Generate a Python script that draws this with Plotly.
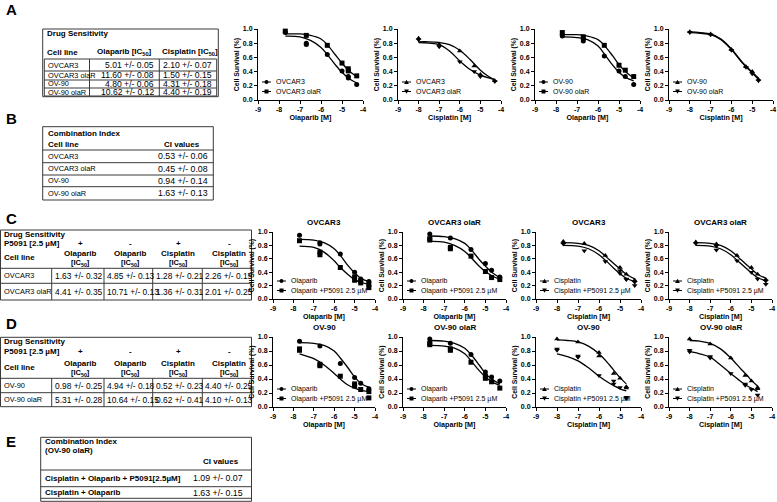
"""Drug sensitivity figure: IC50 tables and dose-response curves."""
import plotly.graph_objects as go

W, H = 777, 502
FONT = "Liberation Sans, Arial, sans-serif"
INK = "black"
GRID = "#3a3a3a"

# ---- doses (log10 M) -------------------------------------------------------
OLA_DOSE = [-7.7, -6.7, -5.7, -5.0, -4.7, -4.3]
CIS_DOSE = [-8.0, -7.0, -6.0, -5.3, -5.0, -4.7]
CIS_DOSE_A2 = [-8.0, -7.0, -6.0, -5.3, -5.0, -4.3]
OLA_FIT_X = [-7.7, -7.0, -6.5, -6.0, -5.7, -5.3, -5.0, -4.7, -4.3]
CIS_FIT_X = [-8.0, -7.5, -7.0, -6.5, -6.0, -5.5, -5.2, -5.0, -4.7]
CIS_FIT_X_A2 = [-8.0, -7.5, -7.0, -6.5, -6.0, -5.5, -5.0, -4.6, -4.3]

# ---- panel A curves ---------------------------------------------------------
a1_ovcar3 = [[0.95], [0.80, 0.78], [0.64], [0.41], [0.33, 0.31], [0.22]]
a1_olar = [[0.97], [0.91], [0.77], [0.52], [0.44, 0.41], [0.34]]
a1_ovcar3_fit = [0.90, 0.89, 0.84, 0.74, 0.64, 0.49, 0.39, 0.31, 0.24]
a1_olar_fit = [0.93, 0.93, 0.91, 0.86, 0.78, 0.63, 0.52, 0.42, 0.33]

a2_ovcar3 = [[0.87], [0.78], [0.69], [0.48], [0.36], [0.27]]
a2_olar = [[0.85], [0.75], [0.54], [0.40], [0.33], [0.26]]
a2_ovcar3_fit = [0.82, 0.82, 0.81, 0.78, 0.70, 0.57, 0.42, 0.33, 0.28]
a2_olar_fit = [0.81, 0.80, 0.78, 0.69, 0.55, 0.43, 0.35, 0.31, 0.29]

a3_ov90 = [[0.92, 0.90], [0.86, 0.83], [0.62], [0.41], [0.33], [0.22]]
a3_olar = [[0.95], [0.89], [0.77], [0.49], [0.42], [0.33]]
a3_ov90_fit = [0.89, 0.88, 0.85, 0.76, 0.65, 0.49, 0.39, 0.32, 0.27]
a3_olar_fit = [0.92, 0.92, 0.90, 0.85, 0.77, 0.62, 0.50, 0.40, 0.31]

a4_ov90 = [[0.96], [0.93], [0.71], [0.47], [0.40], [0.29]]
a4_olar = [[0.95], [0.92], [0.70], [0.46], [0.37], [0.27]]
a4_ov90_fit = [0.96, 0.95, 0.93, 0.86, 0.72, 0.54, 0.45, 0.39, 0.31]
a4_olar_fit = [0.95, 0.94, 0.92, 0.85, 0.71, 0.53, 0.44, 0.38, 0.29]

# ---- panel C curves ---------------------------------------------------------
c1_ola = [[0.95], [0.84, 0.82], [0.67], [0.40], [0.30], [0.26]]
c1_p5091 = [[0.87], [0.70, 0.66], [0.47], [0.33, 0.28], [0.27, 0.24], [0.22, 0.17]]
c1_ola_fit = [0.89, 0.88, 0.84, 0.75, 0.65, 0.49, 0.39, 0.31, 0.26]
c1_p5091_fit = [0.79, 0.77, 0.70, 0.57, 0.47, 0.36, 0.29, 0.25, 0.22]

c2_ola = [[0.97], [0.91], [0.74], [0.53], [0.43], [0.33]]
c2_p5091 = [[0.90, 0.88], [0.77, 0.75], [0.64], [0.41], [0.32], [0.29]]
c2_ola_fit = [0.94, 0.93, 0.90, 0.83, 0.74, 0.59, 0.49, 0.40, 0.32]
c2_p5091_fit = [0.86, 0.85, 0.80, 0.71, 0.62, 0.49, 0.41, 0.35, 0.29]

c3_cis = [[0.86, 0.84], [0.83], [0.65], [0.47], [0.37], [0.28]]
c3_p5091 = [[0.82], [0.72], [0.56], [0.42, 0.38], [0.30, 0.29], [0.25, 0.20]]
c3_cis_fit = [0.84, 0.83, 0.80, 0.72, 0.64, 0.53, 0.45, 0.37, 0.30]
c3_p5091_fit = [0.80, 0.79, 0.75, 0.66, 0.58, 0.46, 0.38, 0.31, 0.26]

c4_cis = [[0.85], [0.82], [0.65], [0.47], [0.37], [0.29]]
c4_p5091 = [[0.83], [0.79, 0.73], [0.57], [0.40], [0.30], [0.27, 0.22]]
c4_cis_fit = [0.84, 0.83, 0.80, 0.72, 0.64, 0.53, 0.45, 0.37, 0.31]
c4_p5091_fit = [0.80, 0.79, 0.75, 0.66, 0.58, 0.47, 0.39, 0.32, 0.27]

# ---- panel D curves ---------------------------------------------------------
d1_ola = [[0.94], [0.87], [0.62], [0.42], [0.34], [0.26]]
d1_p5091 = [[0.83, 0.81], [0.61, 0.59], [0.44], [0.33, 0.30], [0.25], [0.22, 0.13]]
d1_ola_fit = [0.92, 0.91, 0.88, 0.80, 0.70, 0.55, 0.43, 0.34, 0.28]
d1_p5091_fit = [0.76, 0.69, 0.60, 0.48, 0.40, 0.31, 0.27, 0.24, 0.22]

d2_ola = [[0.97], [0.91], [0.75], [0.50], [0.43], [0.37]]
d2_p5091 = [[0.91, 0.89], [0.83, 0.81], [0.64], [0.44, 0.41], [0.36], [0.27]]
d2_ola_fit = [0.95, 0.94, 0.91, 0.84, 0.75, 0.60, 0.48, 0.40, 0.33]
d2_p5091_fit = [0.88, 0.87, 0.84, 0.76, 0.66, 0.52, 0.43, 0.36, 0.31]

d3_cis = [[0.97], [0.93], [0.78, 0.73], [0.48], [0.41], [0.29, 0.27]]
d3_p5091 = [[0.83, 0.81], [0.73, 0.71], [0.45], [0.37, 0.33], [0.28], [0.14, 0.12]]
d3_cis_fit = [0.96, 0.95, 0.93, 0.87, 0.76, 0.60, 0.49, 0.42, 0.33]
d3_p5091_fit = [0.76, 0.72, 0.66, 0.56, 0.44, 0.34, 0.29, 0.26, 0.23]

d4_cis = [[0.97], [0.90], [0.70], [0.45], [0.37], [0.28, 0.26]]
d4_p5091 = [[0.81, 0.79], [0.72, 0.70], [0.48], [0.33, 0.31], [0.25], [0.17]]
d4_cis_fit = [0.95, 0.94, 0.91, 0.83, 0.70, 0.54, 0.45, 0.38, 0.30]
d4_p5091_fit = [0.79, 0.76, 0.71, 0.60, 0.48, 0.36, 0.30, 0.27, 0.22]

# ---- tables -----------------------------------------------------------------
CELL_LINES = ["OVCAR3", "OVCAR3 olaR", "OV-90", "OV-90 olaR"]
TABLE_A_OLA = ["5.01 +/- 0.05", "11.60 +/- 0.08", "4.80 +/- 0.06", "10.62 +/- 0.12"]
TABLE_A_CIS = ["2.10 +/- 0.07", "1.50 +/- 0.15", "4.31 +/- 0.18", "4.40 +/- 0.19"]
TABLE_B_CI = ["0.53 +/- 0.06", "0.45 +/- 0.08", "0.94 +/- 0.14", "1.63 +/- 0.13"]
P5091_SIGNS = ["+", "-", "+", "-"]
CD_DRUGS = ["Olaparib", "Olaparib", "Cisplatin", "Cisplatin"]
TABLE_C_ROWS = ["OVCAR3", "OVCAR3 olaR"]
TABLE_C_VALS = [["1.63 +/- 0.32", "4.85 +/- 0.13", "1.28 +/- 0.21", "2.26 +/- 0.15"],
                ["4.41 +/- 0.35", "10.71 +/- 0.13", "1.36 +/- 0.31", "2.01 +/- 0.25"]]
TABLE_D_ROWS = ["OV-90", "OV-90 olaR"]
TABLE_D_VALS = [["0.98 +/- 0.25", "4.94 +/- 0.18", "0.52 +/- 0.23", "4.40 +/- 0.25"],
                ["5.31 +/- 0.28", "10.64 +/- 0.15", "0.62 +/- 0.41", "4.10 +/- 0.13"]]
TABLE_E_ROWS = ["Cisplatin + Olaparib + P5091[2.5µM]", "Cisplatin + Olaparib"]
TABLE_E_CI = ["1.09 +/- 0.07", "1.63 +/- 0.15"]

OLA_P = "Olaparib +P5091 2.5 µM"
CIS_P = "Cisplatin +P5091 2.5 µM"

# panel boxes in pixels: (x_left, x_right, y_top, y_bottom)
PANELS = [
    dict(box=(258, 363, 29, 100), title=None, xt="Olaparib [M]", dose=OLA_DOSE, fx=OLA_FIT_X,
         s=[("OVCAR3", a1_ovcar3, a1_ovcar3_fit, "circle"), ("OVCAR3 olaR", a1_olar, a1_olar_fit, "square")]),
    dict(box=(398, 501, 29, 100), title=None, xt="Cisplatin [M]", dose=CIS_DOSE_A2, fx=CIS_FIT_X_A2,
         s=[("OVCAR3", a2_ovcar3, a2_ovcar3_fit, "triangle-up"), ("OVCAR3 olaR", a2_olar, a2_olar_fit, "triangle-down")]),
    dict(box=(535, 640, 29, 100), title=None, xt="Olaparib [M]", dose=OLA_DOSE, fx=OLA_FIT_X,
         s=[("OV-90", a3_ov90, a3_ov90_fit, "circle"), ("OV-90 olaR", a3_olar, a3_olar_fit, "square")]),
    dict(box=(669, 773, 29, 100), title=None, xt="Cisplatin [M]", dose=CIS_DOSE, fx=CIS_FIT_X,
         s=[("OV-90", a4_ov90, a4_ov90_fit, "triangle-up"), ("OV-90 olaR", a4_olar, a4_olar_fit, "triangle-down")]),
    dict(box=(273, 375, 232, 299), title="OVCAR3", xt="Olaparib [M]", dose=OLA_DOSE, fx=OLA_FIT_X,
         s=[("Olaparib", c1_ola, c1_ola_fit, "circle"), (OLA_P, c1_p5091, c1_p5091_fit, "square")]),
    dict(box=(403, 506, 232, 299), title="OVCAR3 olaR", xt="Olaparib [M]", dose=OLA_DOSE, fx=OLA_FIT_X,
         s=[("Olaparib", c2_ola, c2_ola_fit, "circle"), (OLA_P, c2_p5091, c2_p5091_fit, "square")]),
    dict(box=(536, 641, 232, 299), title="OVCAR3", xt="Cisplatin [M]", dose=OLA_DOSE, fx=OLA_FIT_X,
         s=[("Cisplatin", c3_cis, c3_cis_fit, "triangle-up"), (CIS_P, c3_p5091, c3_p5091_fit, "triangle-down")]),
    dict(box=(669, 772, 232, 299), title="OVCAR3 olaR", xt="Cisplatin [M]", dose=OLA_DOSE, fx=OLA_FIT_X,
         s=[("Cisplatin", c4_cis, c4_cis_fit, "triangle-up"), (CIS_P, c4_p5091, c4_p5091_fit, "triangle-down")]),
    dict(box=(273, 375, 337, 407), title="OV-90", xt="Olaparib [M]", dose=OLA_DOSE, fx=OLA_FIT_X,
         s=[("Olaparib", d1_ola, d1_ola_fit, "circle"), (OLA_P, d1_p5091, d1_p5091_fit, "square")]),
    dict(box=(403, 506, 337, 407), title="OV-90 olaR", xt="Olaparib [M]", dose=OLA_DOSE, fx=OLA_FIT_X,
         s=[("Olaparib", d2_ola, d2_ola_fit, "circle"), (OLA_P, d2_p5091, d2_p5091_fit, "square")]),
    dict(box=(536, 641, 337, 407), title="OV-90", xt="Cisplatin [M]", dose=CIS_DOSE, fx=CIS_FIT_X,
         s=[("Cisplatin", d3_cis, d3_cis_fit, "triangle-up"), (CIS_P, d3_p5091, d3_p5091_fit, "triangle-down")]),
    dict(box=(669, 772, 337, 407), title="OV-90 olaR", xt="Cisplatin [M]", dose=CIS_DOSE, fx=CIS_FIT_X,
         s=[("Cisplatin", d4_cis, d4_cis_fit, "triangle-up"), (CIS_P, d4_p5091, d4_p5091_fit, "triangle-down")]),
]


def px(x):
    return x / W


def py(y):
    return 1 - y / H


shapes = []
annotations = []


def line(x0, y0, x1, y1, color=GRID, width=1):
    shapes.append(dict(type="line", xref="paper", yref="paper", x0=px(x0), y0=py(y0),
                       x1=px(x1), y1=py(y1), line=dict(color=color, width=width)))


def box(x0, y0, x1, y1, color=GRID):
    shapes.append(dict(type="rect", xref="paper", yref="paper", x0=px(x0), y0=py(y0),
                       x1=px(x1), y1=py(y1), line=dict(color=color, width=1)))


def text(x, y, s, anchor="left", size=8, bold=False):
    annotations.append(dict(x=px(x), y=py(y), xref="paper", yref="paper", showarrow=False,
                            text=f"<b>{s}</b>" if bold else s, xanchor=anchor, yanchor="middle",
                            font=dict(family=FONT, size=size, color=INK)))


def legend_marker(cx, cy, symbol):
    r = 2.0
    if symbol == "circle":
        shapes.append(dict(type="circle", xref="paper", yref="paper", x0=px(cx - r), x1=px(cx + r),
                           y0=py(cy + r), y1=py(cy - r), fillcolor=INK, line=dict(width=0)))
    elif symbol == "square":
        shapes.append(dict(type="rect", xref="paper", yref="paper", x0=px(cx - r), x1=px(cx + r),
                           y0=py(cy + r), y1=py(cy - r), fillcolor=INK, line=dict(width=0)))
    else:
        s = 1 if symbol == "triangle-up" else -1
        pts = [(cx - 2.4, cy + 1.9 * s), (cx + 2.4, cy + 1.9 * s), (cx, cy - 2.3 * s)]
        path = "M " + " L ".join(f"{px(a)},{py(b)}" for a, b in pts) + " Z"
        shapes.append(dict(type="path", xref="paper", yref="paper", path=path,
                           fillcolor=INK, line=dict(width=0)))


fig = go.Figure()
layout_axes = {}
tick_x = [-9, -8, -7, -6, -5, -4]
tick_y = [0, 0.2, 0.4, 0.6, 0.8, 1.0]

for i, p in enumerate(PANELS, start=1):
    x0, x1, y0, y1 = p["box"]
    xa, ya = f"x{i}", f"y{i}"
    for name, reps, fit, sym in p["s"]:
        fig.add_trace(go.Scatter(x=p["fx"], y=fit, mode="lines", xaxis=xa, yaxis=ya,
                                 line=dict(color=INK, width=1.3, shape="spline", smoothing=1.0),
                                 showlegend=False, hoverinfo="skip"))
        xs = [d for d, vals in zip(p["dose"], reps) for _ in vals]
        ys = [v for vals in reps for v in vals]
        fig.add_trace(go.Scatter(x=xs, y=ys, mode="markers", xaxis=xa, yaxis=ya, name=name,
                                 marker=dict(symbol=sym, size=5, color=INK),
                                 cliponaxis=False, showlegend=False))
    common = dict(showline=True, linecolor=INK, linewidth=1, ticks="outside", ticklen=3,
                  tickwidth=1, tickcolor=INK, showgrid=False, zeroline=False, automargin=False,
                  tickfont=dict(family=FONT, size=7, color=INK))
    layout_axes["xaxis" if i == 1 else f"xaxis{i}"] = dict(
        common, domain=[px(x0), px(x1)], anchor=ya, range=[-9, -4], tickvals=tick_x,
        ticktext=[f"<b>{t}</b>" for t in tick_x],
        title=dict(text=f"<b>{p['xt']}</b>", standoff=1, font=dict(family=FONT, size=7.2, color=INK)))
    layout_axes["yaxis" if i == 1 else f"yaxis{i}"] = dict(
        common, domain=[py(y1), py(y0)], anchor=xa, range=[0, 1.0], tickvals=tick_y,
        ticktext=[f"<b>{t:.1f}</b>" for t in tick_y],
        title=dict(text="<b>Cell Survival (%)</b>", standoff=2, font=dict(family=FONT, size=6.8, color=INK)))
    if p["title"]:
        text((x0 + x1) / 2, y0 - 10, p["title"], anchor="center", size=8, bold=True)
    # in-plot legend
    for k, (name, _, _, sym) in enumerate(p["s"]):
        ly = y1 - 18 + 9.5 * k
        line(x0 + 4, ly, x0 + 13, ly, color=INK, width=1)
        legend_marker(x0 + 8.5, ly, sym)
        text(x0 + 15.5, ly, name, size=7)

# ---- panel letters ----------------------------------------------------------
for letter, ly in zip("ABCDE", [10, 118, 218, 323, 441]):
    text(4, ly, letter, size=15, bold=True)

HEAD, LAB, VAL = 8, 7.4, 8.6

# table A
box(42.7, 29, 218.3, 96.7)
text(45, 34, "Drug Sensitivity", size=HEAD, bold=True)
text(45, 52, "Cell line", size=HEAD, bold=True)
text(124, 52, "Olaparib [IC<sub>50</sub>]", anchor="center", size=HEAD, bold=True)
text(190, 52, "Cisplatin [IC<sub>50</sub>]", anchor="center", size=HEAD, bold=True)
rows_a = [59, 71, 80, 88, 96]
for yy in rows_a:
    line(44.3, yy, 216.7, yy)
for xx in [44.3, 89.5, 159.3, 216.7]:
    line(xx, rows_a[0], xx, rows_a[-1])
for k, name in enumerate(CELL_LINES):
    cy = (rows_a[k] + rows_a[k + 1]) / 2
    text(46, cy, name, size=LAB)
    text(156, cy, TABLE_A_OLA[k], anchor="right", size=VAL)
    text(214, cy, TABLE_A_CIS[k], anchor="right", size=VAL)

# table B
box(42.7, 126.7, 213.3, 200)
text(46, 133, "Combination Index", size=HEAD, bold=True)
text(46, 144.3, "Cell line", size=HEAD, bold=True)
text(182, 144.3, "CI values", anchor="center", size=HEAD, bold=True)
rows_b = [150, 162.7, 175, 186.7, 200]
for yy in rows_b[:-1]:
    line(42.7, yy, 213.3, yy)
for k, name in enumerate(CELL_LINES):
    cy = (rows_b[k] + rows_b[k + 1]) / 2
    text(46, cy, name, size=LAB)
    text(210, cy, TABLE_B_CI[k], anchor="right", size=VAL + 0.2)


def combo_table(top, head_y, rows_y, row_names, vals):
    box(0.5, top, 251.5, rows_y[-1])
    text(2, top + 4.2, "Drug Sensitivity", size=HEAD, bold=True)
    text(2, top + 13.7, "P5091 [2.5 µM]", size=HEAD, bold=True)
    text(2, head_y + 4.5, "Cell line", size=HEAD, bold=True)
    centers = [80, 130, 178, 229]
    seps = [51.7, 104, 152.7, 202.3]
    for c, sign, drug in zip(centers, P5091_SIGNS, CD_DRUGS):
        text(c, top + 13.7, sign, anchor="center", size=HEAD, bold=True)
        text(c, head_y, drug, anchor="center", size=HEAD, bold=True)
        text(c, head_y + 9.2, "[IC<sub>50</sub>]", anchor="center", size=HEAD - 0.5, bold=True)
    for yy in rows_y[:-1]:
        line(0.5, yy, 251.5, yy)
    for xx in seps:
        line(xx, rows_y[0], xx, rows_y[-1])
    for k, name in enumerate(row_names):
        cy = (rows_y[k] + rows_y[k + 1]) / 2
        text(2, cy, name, size=LAB)
        for j, v in enumerate(vals[k]):
            text(seps[j] + 0.8, cy, v, size=VAL - 0.2)


combo_table(230, 253.3, [268.3, 283.3, 300], TABLE_C_ROWS, TABLE_C_VALS)
combo_table(337.3, 363.3, [378.3, 392.7, 406.7], TABLE_D_ROWS, TABLE_D_VALS)

# table E
box(40.7, 437.3, 251.5, 501.3)
text(43, 441.7, "Combination Index", size=HEAD, bold=True)
text(43, 450.7, "(OV-90 olaR)", size=HEAD, bold=True)
text(221, 461.7, "CI values", anchor="center", size=HEAD, bold=True)
rows_e = [470, 486.7, 498.3]
for yy in rows_e:
    line(40.7, yy, 251.5, yy)
for k, name in enumerate(TABLE_E_ROWS):
    cy = (rows_e[k] + rows_e[k + 1]) / 2
    text(43, cy, name, size=HEAD, bold=True)
    text(218, cy, TABLE_E_CI[k], anchor="center", size=VAL + 0.2)

fig.update_layout(
    width=W, height=H, margin=dict(l=0, r=0, t=0, b=0, autoexpand=False),
    paper_bgcolor="white", plot_bgcolor="white", showlegend=False,
    font=dict(family=FONT, color=INK), shapes=shapes, annotations=annotations,
    **layout_axes,
)
# drop the browser's default 8px body margin so the figure sits at the page origin
fig.write_html("out.html", config={"displayModeBar": False},
               post_script="document.body.style.margin='0';")
